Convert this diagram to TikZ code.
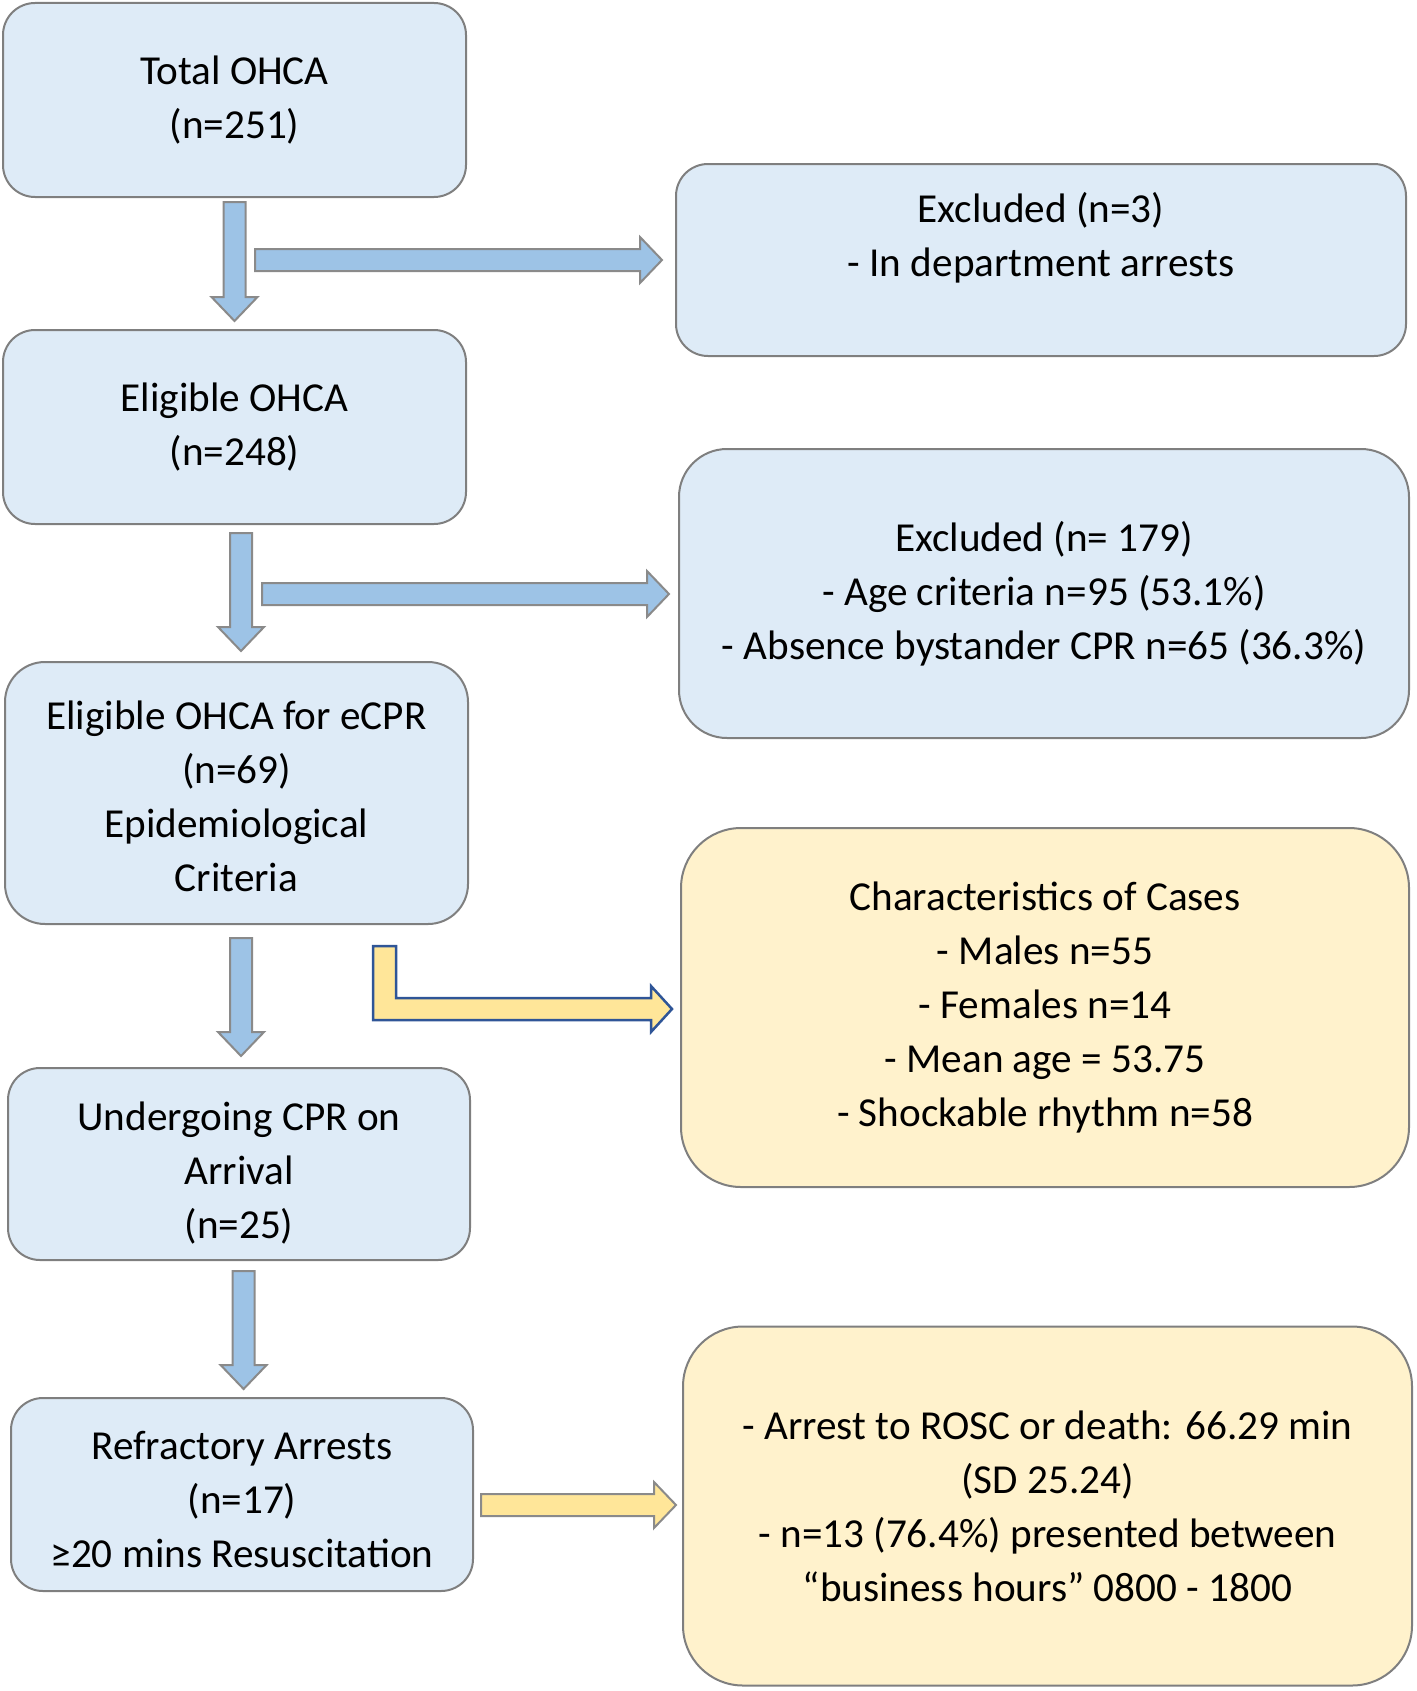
\documentclass[tikz,border=0pt]{standalone}
\usepackage{fontspec}
\setmainfont{Carlito}
\usetikzlibrary{calc}
\definecolor{boxblue}{HTML}{DEEBF7}
\definecolor{boxyellow}{HTML}{FFF2CC}
\definecolor{boxedge}{HTML}{7F7F7F}
\definecolor{arrblue}{HTML}{9DC3E6}
\definecolor{arryellow}{HTML}{FFE699}
\definecolor{arredge}{HTML}{8A8A8A}
\definecolor{darkedge}{HTML}{2F5597}
\tikzset{
  flowbox/.style={draw=boxedge, line width=2pt, align=center, inner sep=0pt,
    font=\fontsize{41.2}{54}\selectfont},
  bluebox/.style={flowbox, fill=boxblue},
  yellowbox/.style={flowbox, fill=boxyellow},
  txt/.style={align=center, inner sep=0pt, font=\fontsize{41.2}{54}\selectfont},
  bluearrow/.style={fill=arrblue, draw=arredge, line width=2pt, line join=miter},
  yellowarrow/.style={fill=arryellow, draw=arredge, line width=2pt, line join=miter},
  bentarrow/.style={fill=arryellow, draw=darkedge, line width=2.5pt, line join=miter}
}
% vertical block arrow from #1 down to tip #2
\newcommand\vblock[3]{%
  \path[#3] let \p1=(#1), \p2=(#2) in
    (\x1-11pt,\y1) -- (\x1+11pt,\y1) -- (\x1+11pt,\y2+24pt) -- (\x1+23pt,\y2+24pt)
    -- (\x1,\y2) -- (\x1-23pt,\y2+24pt) -- (\x1-11pt,\y2+24pt) -- cycle;}
% horizontal block arrow from #1 right to tip #2
\newcommand\hblock[3]{%
  \path[#3] let \p1=(#1), \p2=(#2) in
    (\x1,\y1+11pt) -- (\x2-22pt,\y1+11pt) -- (\x2-22pt,\y1+23pt) -- (\x2,\y1)
    -- (\x2-22pt,\y1-23pt) -- (\x2-22pt,\y1-11pt) -- (\x1,\y1-11pt) -- cycle;}
\begin{document}
\begin{tikzpicture}[x=1pt,y=-1pt]
\useasboundingbox (0,0) rectangle (1416,1691);

% left column
\node[bluebox, minimum width=463pt, minimum height=194pt, rounded corners=32pt] (b1) at (234.5,100) {Total OHCA\\(n=251)};
\node[bluebox, minimum width=463pt, minimum height=194pt, rounded corners=32pt] (b2) at (234.5,427) {Eligible OHCA\\(n=248)};
\node[bluebox, minimum width=463pt, minimum height=262pt, rounded corners=40pt] (b3) at (236.5,793) {};
\node[txt] (b3t) at (236.5,796) {Eligible OHCA for eCPR\\(n=69)\\Epidemiological\\Criteria};
\node[bluebox, minimum width=462pt, minimum height=192pt, rounded corners=32pt] (b4) at (239,1164) {};
\node[txt] (b4t) at (239,1173) {Undergoing CPR on\\Arrival\\(n=25)};
\node[bluebox, minimum width=462pt, minimum height=193pt, rounded corners=32pt] (b5) at (242,1494.5) {};
\node[txt] (b5t) at (242,1500) {Refractory Arrests\\(n=17)\\≥20 mins Resuscitation};

% right column
\node[bluebox, minimum width=730pt, minimum height=192pt, rounded corners=32pt] (ex1) at (1041,260) {};
\node[txt] (ex1t) at (1041,238) {Excluded (n=3)\\- In department arrests};
\node[bluebox, minimum width=730pt, minimum height=289pt, rounded corners=48pt] (ex2) at (1044,593.5) {Excluded (n= 179)\\- Age criteria n=95 (53.1\%)\\- Absence bystander CPR n=65 (36.3\%)};
\node[yellowbox, minimum width=728pt, minimum height=359pt, rounded corners=60pt] (ch) at (1045,1007.5) {Characteristics of Cases\\- Males n=55\\- Females n=14\\- Mean age = 53.75\\- Shockable rhythm n=58};
\node[yellowbox, minimum width=729pt, minimum height=359pt, rounded corners=60pt] (y2) at (1047.5,1506) {- Arrest to ROSC or death: 66.29 min\\(SD 25.24)\\- n=13 (76.4\%) presented between\\“business hours” 0800 - 1800};

% arrow end points
\coordinate (a1s) at ($(b1.south)+(0,4)$);
\coordinate (a1e) at ($(b2.north)+(0,-8)$);
\coordinate (a2s) at ($(b2.south)+(6.5,8)$);
\coordinate (a2e) at ($(b3.north)+(6.5,-10)$);
\coordinate (a3s) at ($(b3.south)+(4.5,13)$);
\coordinate (a3e) at ($(b4.north)+(4.5,-11)$);
\coordinate (a4s) at ($(b4.south)+(4.6,10)$);
\coordinate (a4e) at ($(b5.north)+(4.6,-8)$);
\coordinate (r1s) at ($(b1.south)+(20.5,62)$);
\coordinate (r1e) at ($(ex1.west)+(-13,0)$);
\coordinate (r2s) at ($(b2.south)+(27.5,69)$);
\coordinate (r2e) at ($(ex2.west)+(-9,0)$);
\coordinate (bs) at ($(b3.south)+(148,21)$);
\coordinate (be) at ($(ch.west)+(-8,1.5)$);
\coordinate (r3s) at ($(b5.east)+(7,10.5)$);
\coordinate (r3e) at ($(y2.west)+(-6,-1)$);

\vblock{a1s}{a1e}{bluearrow}
\vblock{a2s}{a2e}{bluearrow}
\vblock{a3s}{a3e}{bluearrow}
\vblock{a4s}{a4e}{bluearrow}
\hblock{r1s}{r1e}{bluearrow}
\hblock{r2s}{r2e}{bluearrow}
\hblock{r3s}{r3e}{yellowarrow}

% bent arrow
\path[bentarrow] let \p1=(bs), \p2=(be) in
  (\x1-11.5pt,\y1) -- (\x1+11.5pt,\y1) -- (\x1+11.5pt,\y2+11pt) -- (\x2-21pt,\y2+11pt)
  -- (\x2-21pt,\y2+23pt) -- (\x2,\y2) -- (\x2-21pt,\y2-23pt) -- (\x2-21pt,\y2-11pt)
  -- (\x1-11.5pt,\y2-11pt) -- cycle;
\end{tikzpicture}
\end{document}
